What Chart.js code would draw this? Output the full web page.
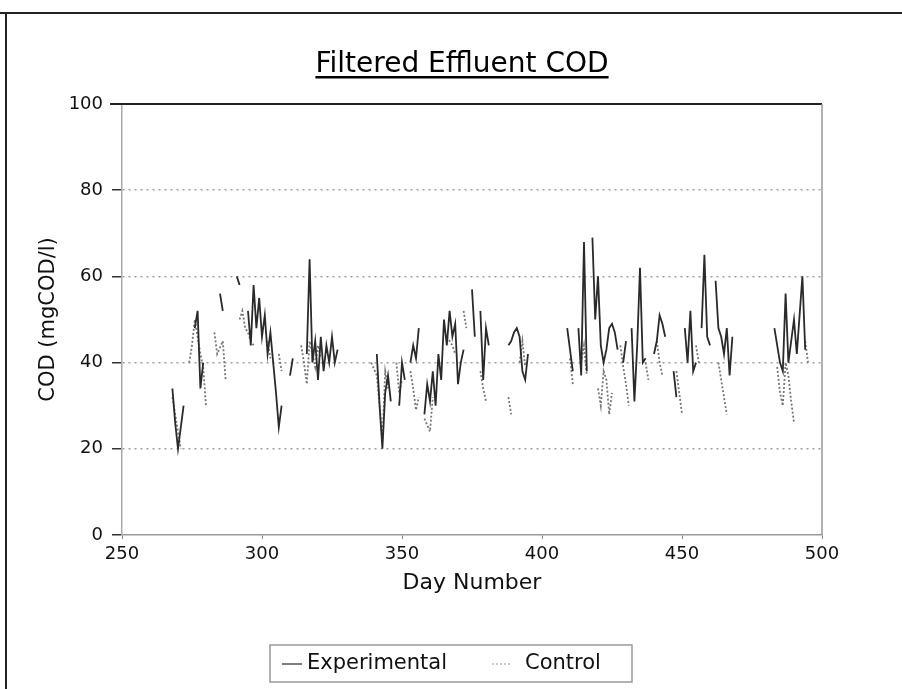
<!DOCTYPE html>
<html>
<head>
<meta charset="utf-8">
<script src="https://cdn.jsdelivr.net/npm/chart.js@4"></script>
<style>
  html, body { margin: 0; padding: 0; background: #fff; }
  #wrap { width: 902px; height: 689px; }
</style>
</head>
<body>
<div id="wrap"><canvas id="chart" width="902" height="689"></canvas></div>
<script>
// Filtered Effluent COD (null = gap in record)
const chartTitle = 'Filtered Effluent COD';
const xLabel = 'Day Number';
const yLabel = 'COD (mgCOD/l)';
const seriesNames = ['Experimental', 'Control'];
const xTicks = [250, 300, 350, 400, 450, 500];
const yTicks = [0, 20, 40, 60, 80, 100];

const expDay = [268, 269, 270, 272, 275, 276, 277, 278, 279, 281, 285, 286, 287, 291, 292, 293,
  295, 296, 297, 298, 299, 300, 301, 302, 303, 304, 305, 306, 307, 308, 310, 311, 312,
  316, 317, 318, 319, 320, 321, 322, 323, 324, 325, 326, 327, 328,
  341, 342, 343, 344, 345, 346, 347, 349, 350, 351, 352, 353, 354, 355, 356, 357,
  358, 359, 360, 361, 362, 363, 364, 365, 366, 367, 368, 369, 370, 371, 372, 373,
  375, 376, 377, 378, 379, 380, 381, 382,
  388, 389, 390, 391, 392, 393, 394, 395, 396,
  409, 411, 412, 413, 414, 415, 416, 417, 418, 419, 420, 421, 422, 423, 424, 425, 426, 427, 428,
  429, 430, 431, 432, 433, 434, 435, 436, 437, 438, 440, 441, 442, 443, 444, 445,
  447, 448, 449, 451, 452, 453, 454, 455, 456, 457, 458, 459, 460, 461,
  462, 463, 464, 465, 466, 467, 468, 469,
  483, 485, 486, 487, 488, 490, 491, 493, 494];
const expCod = [34, 26, 20, 30, null, 48, 52, 34, 40, null, 56, 52, null, 60, 58, null,
  52, 44, 58, 48, 55, 46, 51, 42, 47, 40, 33, 25, 30, null, 37, 41, null,
  42, 64, 40, 45, 36, 46, 38, 44, 40, 46, 40, 43, null,
  42, 30, 20, 33, 37, 31, null, 30, 40, 36, null, 40, 44, 41, 48, null,
  28, 35, 31, 38, 30, 42, 36, 50, 44, 52, 46, 49, 35, 40, 43, null,
  57, 46, null, 52, 36, 48, 44, null,
  44, 45, 47, 48, 46, 38, 36, 42, null,
  48, 38, null, 48, 37, 68, 38, null, 69, 50, 60, 44, 40, 43, 48, 49, 47, 43, null,
  40, 45, null, 48, 31, 44, 62, 40, 41, null, 42, 45, 51, 49, 46, null,
  38, 32, null, 48, 40, 52, 38, 40, null, 48, 65, 46, 44, null,
  59, 48, 46, 42, 48, 37, 46, null,
  48, 40, 38, 56, 40, 50, 42, 60, 43];

const ctlDay = [268, 269, 270, 271, 272, 274, 275, 276, 277, 278, 279, 280, 281,
  283, 284, 286, 287, 288, 292, 293, 294, 295, 296, 297, 298, 302, 303, 304, 306, 307, 308,
  314, 315, 316, 317, 318, 319, 320, 321, 322,
  339, 341, 342, 343, 344, 345, 346, 348, 349, 350, 351, 353, 354, 355, 356, 357,
  358, 360, 361, 362, 366, 368, 369, 370, 372, 373, 374, 378, 379, 380, 381,
  388, 389, 390, 392, 393, 394, 395,
  410, 411, 412, 414, 415, 416, 417, 420, 421, 422, 423, 424, 425, 426,
  428, 429, 430, 431, 432, 437, 438, 439, 441, 442, 443, 444,
  448, 449, 450, 451, 455, 456, 457, 463, 464, 465, 466, 467,
  484, 485, 486, 487, 488, 489, 490, 491, 494, 495];
const ctlCod = [32, 28, 24, 20, null, 40, 44, 50, 46, 42, 39, 30, null,
  47, 42, 45, 36, null, 50, 52, 48, 47, 45, 44, null, 45, 41, null, 42, 38, null,
  44, 40, 35, 45, 42, 39, 44, 41, null,
  40, 37, 30, 22, 38, 34, null, 40, 33, 36, null, 38, 34, 29, 32, null,
  27, 24, 32, null, 46, 44, 42, null, 52, 48, null, 38, 34, 31, null,
  32, 28, null, 40, 45, 39, null,
  41, 35, null, 40, 44, 37, null, 34, 30, 38, 36, 28, 33, null,
  44, 39, 35, 30, null, 40, 36, null, 45, 40, 37, null,
  38, 33, 28, null, 44, 40, null, 40, 36, 32, 28, null,
  39, 33, 30, 40, 37, 31, 26, null, 45, 40];

const toPoints = (days, vals) => days.map((d, i) => ({ x: d, y: vals[i] }));

const FONT = 'DejaVu Sans';

// scanned page decoration: frame, underlined title, boxed legend, plot border
const pagePlugin = {
  id: 'page',
  beforeDraw(chart) {
    const ctx = chart.ctx;
    ctx.save();
    ctx.fillStyle = '#fff';
    ctx.fillRect(0, 0, chart.width, chart.height);
    ctx.strokeStyle = '#222';
    ctx.lineWidth = 2;
    ctx.beginPath();
    ctx.moveTo(6, 13); ctx.lineTo(6, chart.height);
    ctx.moveTo(0, 13); ctx.lineTo(chart.width, 13);
    ctx.stroke();
    ctx.restore();
  },
  afterDraw(chart) {
    const ctx = chart.ctx;
    const a = chart.chartArea;
    ctx.save();
    // plot frame top (solid) and right (grey)
    ctx.strokeStyle = '#222';
    ctx.lineWidth = 2;
    ctx.beginPath();
    ctx.moveTo(a.left - 12, a.top); ctx.lineTo(a.right, a.top);
    ctx.stroke();
    ctx.strokeStyle = '#999';
    ctx.lineWidth = 1.5;
    ctx.beginPath();
    ctx.moveTo(a.right, a.top); ctx.lineTo(a.right, a.bottom);
    ctx.stroke();

    // title with underline
    ctx.fillStyle = '#000';
    ctx.font = '28px "' + FONT + '"';
    ctx.textAlign = 'center';
    ctx.textBaseline = 'alphabetic';
    const tx = 462, ty = 72;
    ctx.fillText(chartTitle, tx, ty);
    const tw = ctx.measureText(chartTitle).width;
    ctx.fillRect(tx - tw / 2, ty + 4, tw, 2.5);

    // legend box
    const ds = chart.data.datasets;
    ctx.strokeStyle = '#999';
    ctx.lineWidth = 1.5;
    ctx.strokeRect(270, 645, 362, 37);
    ctx.font = '21px "' + FONT + '"';
    ctx.textAlign = 'left';
    ctx.textBaseline = 'middle';
    const items = [{ x: 282, tx: 307 }, { x: 492, tx: 525 }];
    items.forEach((it, i) => {
      ctx.strokeStyle = i === 0 ? '#555' : '#bbb';
      ctx.lineWidth = 1.5;
      ctx.setLineDash(ds[i].borderDash || []);
      ctx.beginPath();
      ctx.moveTo(it.x, 664); ctx.lineTo(it.x + 20, 664);
      ctx.stroke();
      ctx.setLineDash([]);
      ctx.fillStyle = '#111';
      ctx.fillText(ds[i].label, it.tx, 664);
    });
    ctx.restore();
  }
};

new Chart(document.getElementById('chart'), {
  type: 'line',
  data: {
    datasets: [
      {
        label: seriesNames[0],
        data: toPoints(expDay, expCod),
        borderColor: '#2a2a2a',
        borderWidth: 1.8,
        pointRadius: 0,
        tension: 0,
        spanGaps: false
      },
      {
        label: seriesNames[1],
        data: toPoints(ctlDay, ctlCod),
        borderColor: '#777',
        borderWidth: 1.8,
        borderDash: [2, 2],
        pointRadius: 0,
        tension: 0,
        spanGaps: false
      }
    ]
  },
  options: {
    responsive: false,
    animation: false,
    events: [],
    layout: { padding: { top: 104, right: 80, bottom: 93, left: 0 } },
    plugins: {
      legend: { display: false },
      title: { display: false },
      tooltip: { enabled: false }
    },
    scales: {
      x: {
        type: 'linear',
        min: 250, max: 500,
        afterBuildTicks: s => { s.ticks = xTicks.map(v => ({ value: v })); },
        afterFit: s => { s.height = 61; },
        grid: { drawOnChartArea: false, drawTicks: true, tickLength: 4, tickColor: '#888' },
        border: { color: '#999', width: 1.5 },
        ticks: { color: '#111', padding: 5, font: { family: FONT, size: 18 } },
        title: { display: true, text: xLabel, color: '#111', padding: { top: 0, bottom: 0 }, font: { family: FONT, size: 22 } }
      },
      y: {
        min: 0, max: 100,
        afterBuildTicks: s => { s.ticks = yTicks.map(v => ({ value: v })); },
        afterFit: s => { s.width = 122; },
        grid: {
          color: c => (c.tick && (c.tick.value === 0 || c.tick.value === 100)) ? 'rgba(0,0,0,0)' : '#a0a0a0',
          lineWidth: 1.5,
          tickColor: '#333',
          tickLength: 10
        },
        border: { color: '#aaa', width: 1.5, dash: [2, 4] },
        ticks: { color: '#111', padding: 9, font: { family: FONT, size: 18 } },
        title: { display: true, text: yLabel, color: '#111', padding: { top: 36, bottom: 0 }, font: { family: FONT, size: 21 } }
      }
    }
  },
  plugins: [pagePlugin]
});
</script>
</body>
</html>
